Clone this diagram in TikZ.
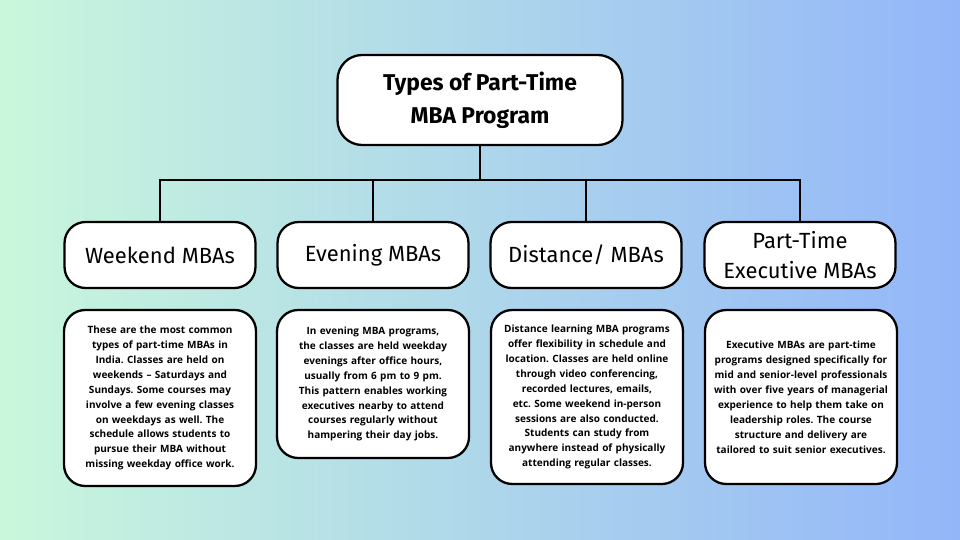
\documentclass[tikz,border=0pt]{standalone}
\usepackage{fontspec}
\setmainfont{Open Sans}
\newfontfamily\headfont{Fira Sans}
\usetikzlibrary{positioning}
\definecolor{mintbg}{HTML}{C9F7DC}
\definecolor{bluebg}{HTML}{93B6F9}
\frenchspacing
\hyphenpenalty=10000
\begin{document}
\begin{tikzpicture}[
    x=0.02cm, y=-0.02cm,
    title/.style={rectangle, rounded corners=14pt, draw=black, line width=1.3pt, fill=white, minimum width=5.7cm, minimum height=1.8cm, align=center, font=\headfont\bfseries\fontsize{13}{19}\selectfont},
    head/.style={rectangle, rounded corners=12pt, draw=black, line width=1.3pt, fill=white, minimum width=3.82cm, minimum height=1.32cm, align=center, font=\headfont\fontsize{12.5}{17}\selectfont},
    desc/.style={rectangle, rounded corners=12pt, draw=black, line width=1.3pt, fill=white, minimum width=3.84cm, align=center, text width=3.5cm, inner sep=3pt, font=\bfseries\fontsize{5.7}{8.5}\selectfont},
    link/.style={line width=1.3pt}
]
    \shade[left color=mintbg, right color=bluebg] (0,0) rectangle (960,540);
    \useasboundingbox (0,0) rectangle (960,540);

    \node[title] (top) at (480,100) {Types of Part-Time\\MBA Program};

    \node[head] (weekend) at (160,255) {Weekend MBAs};
    \node[head] (evening) at (373,255) {Evening MBAs};
    \node[head] (distance) at (586,255) {Distance/ MBAs};
    \node[head] (exec) at (800,255) {Part-Time\\Executive MBAs};

    \node[desc, minimum height=3.52cm] (weekendtxt) at (160,398) {These are the most common types of part-time MBAs in India. Classes are held on weekends -- Saturdays and Sundays. Some courses may involve a few evening classes on weekdays as well. The schedule allows students to pursue their MBA without missing weekday office work.};
    \node[desc, minimum height=2.96cm] (eveningtxt) at (373,384) {In evening MBA programs, the classes are held weekday evenings after office hours, usually from 6 pm to 9 pm. This pattern enables working executives nearby to attend courses regularly without hampering their day jobs.};
    \node[desc, minimum height=3.48cm] (distancetxt) at (587,397) {Distance learning MBA programs offer flexibility in schedule and location. Classes are held online through video conferencing, recorded lectures, emails, etc. Some weekend in-person sessions are also conducted. Students can study from anywhere instead of physically attending regular classes.};
    \node[desc, minimum height=3.48cm] (exectxt) at (801,397) {Executive MBAs are part-time programs designed specifically for mid and senior-level professionals with over five years of managerial experience to help them take on leadership roles. The course structure and delivery are tailored to suit senior executives.};

    \coordinate (hub) at (480,180);
    \draw[link] (top.south) -- (hub);
    \draw[link] (weekend.north) |- (hub) -| (exec.north);
    \draw[link] (evening.north) -- (evening.north |- hub);
    \draw[link] (distance.north) -- (distance.north |- hub);
\end{tikzpicture}
\end{document}
